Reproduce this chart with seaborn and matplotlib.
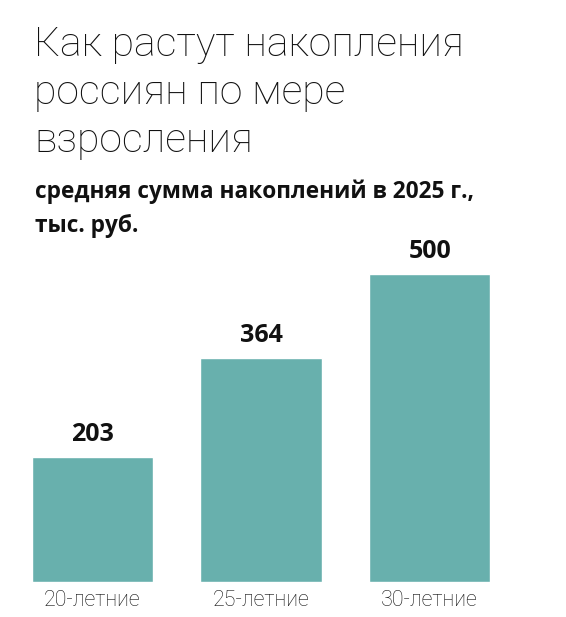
import matplotlib
matplotlib.use("Agg")
import pandas as pd
import seaborn as sns
import matplotlib.pyplot as plt

# данные
categories = ["20-летние", "25-летние", "30-летние"]
values = [203, 364, 500]

title_lines = ["Как растут накопления", "россиян по мере", "взросления"]
subtitle_lines = ["средняя сумма накоплений в 2025 г.,", "тыс. руб."]

df = pd.DataFrame({"group": categories, "savings": values})

sns.set_theme(style="white")
plt.rcParams["font.family"] = ["Open Sans", "DejaVu Sans"]
light = ["Roboto", "Open Sans", "DejaVu Sans"]

W, H = 566, 617
fig = plt.figure(figsize=(W / 100, H / 100), dpi=100)
fig.patch.set_facecolor("white")

# оси в пикселях: низ баров y=582, верх оси y=250
ax_left, ax_right = 8, 514
ax_bottom, ax_top = 582, 250
ax = fig.add_axes([ax_left / W, (H - ax_bottom) / H,
                   (ax_right - ax_left) / W, (ax_bottom - ax_top) / H])

sns.barplot(data=df, x="group", y="savings", color="#68b0ad",
            saturation=1, width=0.72, ax=ax)

ax.set_xlim(-0.5, 2.5)
ax.set_ylim(0, (ax_bottom - ax_top) / 0.616)

for i, v in enumerate(values):
    ax.annotate(str(v), (i, v), xytext=(0, 7), textcoords="offset points",
                ha="center", va="bottom", fontsize=18, fontweight="bold",
                color="#111111")

ax.set_xlabel("")
ax.set_ylabel("")
ax.set_yticks([])
ax.tick_params(axis="x", length=0, pad=6, labelsize=15.5, colors="#111111")
for lab in ax.get_xticklabels():
    lab.set_fontweight("light")
    lab.set_family(light)
sns.despine(ax=ax, left=True, bottom=True)

# заголовок построчно (базовые линии в пикселях)
for line, base in zip(title_lines, [56, 104, 152]):
    fig.text(34 / W, 1 - base / H, line, ha="left", va="baseline",
             fontsize=29.5, fontweight="light", family=light, color="#111111")
for line, base in zip(subtitle_lines, [198, 232]):
    fig.text(35 / W, 1 - base / H, line, ha="left", va="baseline",
             fontsize=16.3, fontweight="bold", color="#111111")

fig.savefig("out.png", dpi=100, facecolor="white")
